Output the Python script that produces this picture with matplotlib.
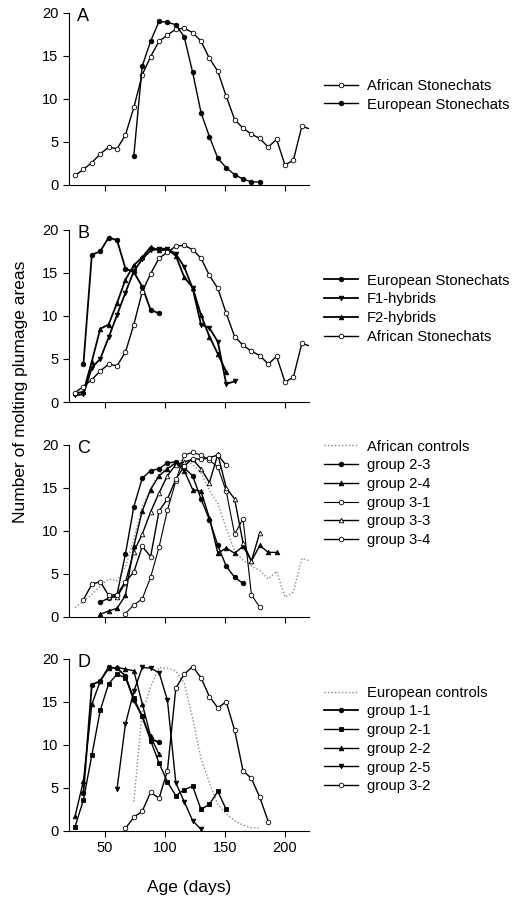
import matplotlib as mpl
import matplotlib.pyplot as plt
import numpy as np

mpl.rcParams['font.family'] = ['Liberation Sans', 'DejaVu Sans']

# --- data (age in days, number of molting plumage areas) -------------------
af_age = [25, 32, 39, 46, 53, 60, 67, 74, 81, 88, 95, 102, 109, 116, 123, 130,
          137, 144, 151, 158, 165, 172, 179, 186, 193, 200, 207, 214, 221]
af_val = [1.1, 1.8, 2.6, 3.6, 4.4, 4.2, 5.8, 9.0, 12.8, 14.9, 16.7, 17.4, 18.1, 18.2, 17.7, 16.7,
          14.7, 13.2, 10.3, 7.6, 6.6, 5.9, 5.4, 4.4, 5.3, 2.3, 2.9, 6.8, 6.5]

eu_age = [74, 81, 88, 95, 102, 109, 116, 123, 130, 137, 144, 151, 158, 165, 172, 179]
eu_val = [3.4, 13.8, 16.7, 19.0, 18.9, 18.6, 17.2, 13.1, 8.4, 5.6, 3.1, 2.0, 1.2, 0.7, 0.35, 0.35]

# panel B
euB_age = [32, 39, 46, 53, 60, 67, 74, 81, 88, 95]
euB_val = [4.4, 17.1, 17.5, 19.1, 18.8, 15.5, 15.1, 13.4, 10.7, 10.3]
f1_age = [25, 32, 39, 46, 53, 60, 67, 74, 81, 88, 95, 102, 109, 116, 123, 130, 137, 144, 151, 158]
f1_val = [0.8, 0.9, 4.0, 5.0, 7.5, 10.1, 12.7, 15.2, 16.6, 17.6, 17.8, 17.8, 17.2, 15.7, 13.2, 9.0, 8.6, 7.0, 2.1, 2.4]
f2_age = [25, 32, 39, 46, 53, 60, 67, 74, 81, 88, 95, 102, 109, 116, 123, 130, 137, 144, 151]
f2_val = [1.0, 1.2, 4.7, 8.5, 9.0, 11.5, 14.2, 15.9, 16.8, 18.0, 17.6, 17.7, 17.0, 14.5, 13.3, 10.1, 7.6, 5.6, 3.5]

# panel C
g23_age = [46, 53, 60, 67, 74, 81, 88, 95, 102, 109, 116, 123, 130, 137, 144, 151, 158, 165]
g23_val = [1.7, 2.2, 2.6, 7.3, 12.8, 16.1, 17.0, 17.2, 17.9, 18.0, 17.3, 16.4, 13.7, 11.3, 8.3, 5.9, 4.6, 3.9]
g24_age = [46, 53, 60, 67, 74, 81, 88, 95, 102, 109, 116, 123, 130, 137, 144, 151, 158, 165, 172, 179, 186, 193]
g24_val = [0.3, 0.7, 1.0, 2.5, 8.2, 12.3, 14.8, 16.4, 17.2, 17.9, 17.0, 14.8, 14.6, 11.5, 7.4, 8.0, 7.4, 8.2, 6.5, 8.3, 7.5, 7.5]
g31_age = [67, 74, 81, 88, 95, 102, 109, 116, 123, 130, 137, 144, 151, 158, 165, 172, 179]
g31_val = [0.4, 1.4, 2.1, 4.6, 8.1, 12.4, 15.8, 18.8, 19.1, 18.8, 18.2, 17.4, 14.6, 9.6, 11.4, 2.6, 1.1]
g33_age = [53, 60, 67, 74, 81, 88, 95, 102, 109, 116, 123, 130, 137, 144, 151, 158, 165, 172, 179]
g33_val = [2.3, 2.3, 4.0, 7.6, 9.6, 12.2, 14.4, 16.4, 17.7, 18.0, 18.3, 17.2, 15.6, 18.9, 15.0, 13.7, 8.6, 6.5, 9.8]
g34_age = [32, 39, 46, 53, 60, 67, 74, 81, 88, 95, 102, 109, 116, 123, 130, 137, 144, 151]
g34_val = [2.0, 3.8, 4.1, 2.5, 2.6, 4.1, 5.2, 8.2, 7.0, 12.3, 13.7, 16.0, 17.5, 18.4, 18.3, 18.5, 18.8, 17.6]

# panel D
g11_age = [32, 39, 46, 53, 60, 67, 74, 81, 88, 95]
g11_val = [4.4, 17.0, 17.4, 19.0, 18.9, 18.0, 15.2, 13.3, 10.7, 10.3]
g21_age = [25, 32, 39, 46, 53, 60, 67, 74, 81, 88, 95, 102, 109, 116, 123, 130, 137, 144, 151]
g21_val = [0.5, 3.6, 8.8, 14.0, 17.1, 18.2, 17.8, 15.4, 13.3, 10.5, 7.9, 5.7, 4.1, 4.8, 5.2, 2.5, 3.1, 4.6, 2.5]
g22_age = [25, 32, 39, 46, 53, 60, 67, 74, 81, 88, 95]
g22_val = [1.7, 5.8, 14.7, 17.4, 18.9, 19.0, 18.8, 18.6, 14.8, 11.0, 8.9]
g25_age = [60, 67, 74, 81, 88, 95, 102, 109, 116, 123, 130]
g25_val = [4.9, 12.4, 16.2, 19.0, 18.9, 18.4, 15.2, 5.6, 3.4, 1.2, 0.2]
g32_age = [67, 74, 81, 88, 95, 102, 109, 116, 123, 130, 137, 144, 151, 158, 165, 172, 179, 186]
g32_val = [0.3, 1.6, 2.3, 4.5, 3.8, 7.0, 16.6, 18.2, 19.1, 17.8, 15.6, 14.3, 15.0, 11.7, 7.0, 6.1, 3.9, 1.1]

# ----------------------------------------------------------------------

fig = plt.figure(figsize=(5.19, 8.97), dpi=100)

bottoms = [0.7938, 0.5518, 0.3122, 0.0736]
letters = ['A', 'B', 'C', 'D']
axes = [fig.add_axes([0.133, b, 0.4624, 0.192]) for b in bottoms]

ms = 3.3
def line(ax, x, y, marker, open_=False, lw=1.0, label=None, **kw):
    return ax.plot(x, y, color='black', lw=lw, marker=marker, ms=ms,
                   mfc='white' if open_ else 'black', mec='black', mew=0.6,
                   label=label, **kw)[0]

def dotted(ax, x, y, label):
    return ax.plot(x, y, color='#8a8a8a', lw=1.0, ls=(0, (1, 1.5)), label=label)[0]

# last African point lies past the axis edge; only its line segment shows
af_marks = slice(0, len(af_age) - 1)

ax = axes[0]
line(ax, af_age, af_val, 'o', open_=True, label='African Stonechats', markevery=af_marks)
line(ax, eu_age, eu_val, 'o', label='European Stonechats')

ax = axes[1]
line(ax, euB_age, euB_val, 'o', lw=1.3, label='European Stonechats')
line(ax, f1_age, f1_val, 'v', lw=1.3, label='F1-hybrids')
line(ax, f2_age, f2_val, '^', lw=1.3, label='F2-hybrids')
line(ax, af_age, af_val, 'o', open_=True, label='African Stonechats', markevery=af_marks)

ax = axes[2]
dotted(ax, af_age, af_val, 'African controls')
line(ax, g23_age, g23_val, 'o', label='group 2-3')
line(ax, g24_age, g24_val, '^', label='group 2-4')
line(ax, g31_age, g31_val, 'o', open_=True, lw=0.8, label='group 3-1')
line(ax, g33_age, g33_val, '^', open_=True, label='group 3-3')
line(ax, g34_age, g34_val, 'o', open_=True, label='group 3-4')

ax = axes[3]
dotted(ax, eu_age, eu_val, 'European controls')
line(ax, g11_age, g11_val, 'o', lw=1.3, label='group 1-1')
line(ax, g21_age, g21_val, 's', label='group 2-1')
line(ax, g22_age, g22_val, '^', label='group 2-2')
line(ax, g25_age, g25_val, 'v', label='group 2-5')
line(ax, g32_age, g32_val, 'o', open_=True, label='group 3-2')

legend_tops = [0.912, 0.695, 0.510, 0.2355]
for ax, letter, top in zip(axes, letters, legend_tops):
    ax.set_xlim(20, 220)
    ax.set_ylim(0, 20)
    ax.set_xticks([50, 100, 150, 200])
    ax.set_yticks([0, 5, 10, 15, 20])
    ax.spines['top'].set_visible(False)
    ax.spines['right'].set_visible(False)
    ax.spines['left'].set_linewidth(0.8)
    ax.spines['bottom'].set_linewidth(0.8)
    ax.tick_params(direction='out', length=4, width=0.8, labelsize=10.5)
    ax.text(27, 19.6, letter, fontsize=13, ha='left', va='center')
    ax.legend(loc='upper left', bbox_to_anchor=(0.624, top), bbox_transform=fig.transFigure,
              frameon=False, fontsize=10.6, handlelength=2.3, handletextpad=0.6,
              labelspacing=0.32, borderpad=0, borderaxespad=0)
    if letter != 'D':
        ax.tick_params(axis='x', labelbottom=False)

axes[3].set_xlabel('Age (days)', fontsize=12.5, labelpad=18)
fig.text(0.04, 0.5635, 'Number of molting plumage areas', rotation=90,
         fontsize=12.5, ha='center', va='center')

plt.savefig('out.png', dpi=100)
